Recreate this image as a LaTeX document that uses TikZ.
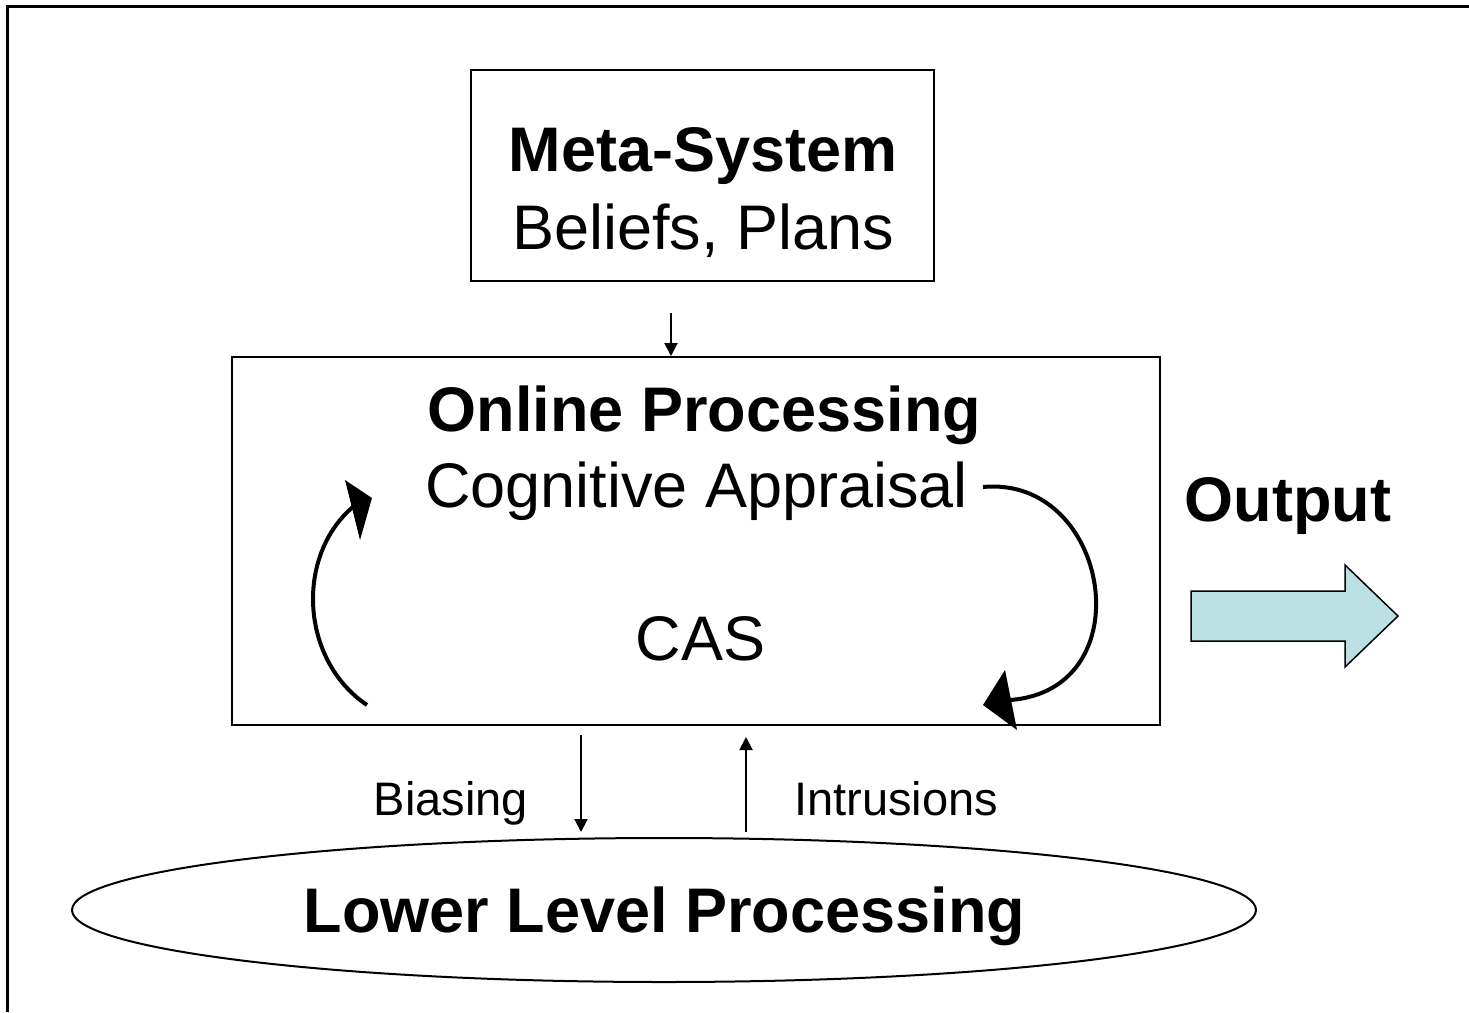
\documentclass[tikz,border=0pt]{standalone}
\usepackage{fontspec}
\setmainfont{Liberation Sans}
\usetikzlibrary{arrows.meta,shapes.geometric}
\definecolor{arrowfill}{RGB}{187,224,227}
\begin{document}
\begin{tikzpicture}[x=1pt,y=-1pt,
  box/.style={draw,line width=2pt,inner sep=0pt},
  lbl/.style={inner sep=0pt,anchor=base,font=\fontsize{63}{70}\selectfont},
  lblb/.style={lbl,font=\fontsize{63}{70}\selectfont\bfseries},
  small/.style={inner sep=0pt,anchor=base,font=\fontsize{47}{52}\selectfont},
  thin arrow/.style={line width=2pt,-{Triangle[width=13pt,length=13pt]}},
  curve/.style={line width=4pt}]
\useasboundingbox (0,0) rectangle (1469,1012);
% frame
\draw[line width=3pt] (7,1012) -- (7,6) -- (1469,6);
% boxes
\node[box,minimum width=463pt,minimum height=211pt] (metabox) at (702.5,175.5) {};
\node[box,minimum width=928pt,minimum height=368pt] (onlinebox) at (696,541) {};
\node[draw,ellipse,line width=2pt,minimum width=1184pt,minimum height=144pt,inner sep=0pt] (lower) at (664,910) {};
% texts
\node[lblb] (meta) at (703,171) {Meta-System};
\node[lbl] (beliefs) at (703,249) {Beliefs, Plans};
\node[lblb] (online) at (704.5,431) {Online Processing};
\node[lbl] (cog) at (696.5,507) {Cognitive Appraisal};
\node[lbl] (cas) at (700.5,660) {CAS};
\node[lblb] (output) at (1288,521) {Output};
\node[small] (biasing) at (451,815) {Biasing};
\node[small] (intrusions) at (896,815) {Intrusions};
\node[lblb] (lowertext) at (664.5,932) {Lower Level Processing};
% small arrows
\coordinate (m0) at (671,313);
\draw[thin arrow] (m0) -- (m0 |- onlinebox.north);
\coordinate (b0) at (581,735);
\coordinate (b1) at (581,832);
\draw[thin arrow] (b0) -- (b1);
\coordinate (i0) at (746,832);
\coordinate (i1) at (746,737);
\draw[thin arrow] (i0) -- (i1);
% curved arrows
\draw[curve] (367,705) .. controls (300,660) and (295,555) .. (354,506);
\fill (345,480) -- (372,498) -- (360,540) -- cycle;
\draw[curve] (983,487) .. controls (1110,475) and (1145,690) .. (1010,700);
\fill (1005,670) -- (983,705) -- (1017,730) -- cycle;
% output arrow
\draw[line width=1.5pt,fill=arrowfill,line join=miter] (1191,591) -- (1345,591) -- (1345,565) -- (1398,616) -- (1345,667) -- (1345,641) -- (1191,641) -- cycle;
\end{tikzpicture}
\end{document}
